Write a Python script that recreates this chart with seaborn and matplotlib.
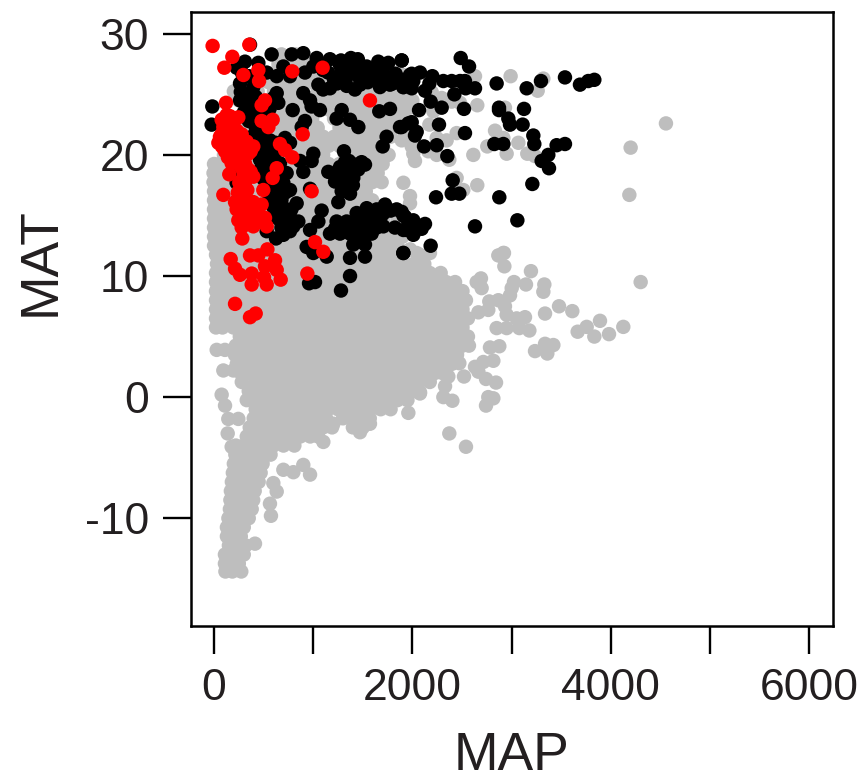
import pandas as pd
import seaborn as sns
import matplotlib.pyplot as plt

# grey points of the dense cloud, MAP values per MAT row
grey_rows = {
    11.75: [20,85,195,305,415,525,635,745,855,965,1075,1185,1295,1405,1515,1625,1735,1845,2076],
    11.0: [30,140,250,360,470,580,690,800,910,1020,1130,1240,1350,1460,1570,1680,1790,1900,2010,2120],
    10.25: [20,85,195,305,415,525,635,745,855,965,1075,1185,1295,1405,1515,1625,1735,1845,1955,2065,2175,2285],
    9.5: [20,140,250,360,470,580,690,800,910,1020,1130,1240,1350,1460,1570,1680,1790,1900,2010,2120,2230,2340,2430],
    8.75: [20,85,195,305,415,525,635,745,855,965,1075,1185,1295,1405,1515,1625,1735,1845,1955,2065,2175,2285,2395,2505],
    8.0: [20,140,250,360,470,580,690,800,910,1020,1130,1240,1350,1460,1570,1680,1790,1900,2010,2120,2230,2340,2450,2540],
    7.25: [20,85,195,305,415,525,635,745,855,965,1075,1185,1295,1405,1515,1625,1735,1845,1955,2065,2175,2285,2395,2505],
    6.5: [20,140,250,360,470,580,690,800,910,1020,1130,1240,1350,1460,1570,1680,1790,1900,2010,2120,2230,2340,2450,2560],
    5.75: [20,85,195,305,415,525,635,745,855,965,1075,1185,1295,1405,1515,1625,1735,1845,1955,2065,2175,2285,2395,2505],
    5.0: [260,360,470,580,690,800,910,1020,1130,1240,1350,1460,1570,1680,1790,1900,2010,2120,2230,2340,2450,2560],
    4.25: [220,305,415,525,635,745,855,965,1075,1185,1295,1405,1515,1625,1735,1845,1955,2065,2175,2285,2395,2505,2570],
    3.5: [210,290,360,470,580,690,800,910,1020,1130,1240,1350,1460,1570,1680,1790,1900,2010,2120,2230,2340,2450],
    2.75: [230,305,415,525,635,745,855,965,1075,1185,1295,1405,1515,1625,1735,1845,1955,2065,2175,2285,2400],
    2.0: [270,360,470,580,690,800,910,1020,1130,1240,1350,1460,1570,1680,1790,1900,2010,2120,2230,2300],
    1.25: [280,415,525,635,745,855,965,1075,1185,1295,1405,1515,1625,1735,1845,1955,2065,2175],
    0.5: [350,470,580,690,800,910,1020,1130,1240,1350,1460,1570,1680,1790,1900,2010],
    -0.25: [330,430,525,635,745,855,965,1075,1185,1295,1405,1515,1625,1735,1850,1950],
    -1.0: [420,530,640,750,860,970,1080,1150,1250,1350,1460,1570,1680,1780],
    -1.75: [400,500,610,720,830,940,1050,1130,1300,1380,1490,1570],
    -2.5: [360,470,580,690,800,910,1020,1100,1190,1400,1500],
    -3.25: [330,430,540,650,760,870,970,1050],
    -4.0: [220,300,400,500,600,700,810],
    -4.75: [215,300,400,500,570],
    -5.5: [200,280,370,490],
    -6.25: [190,270,360,470],
    -7.0: [180,270,370,450],
    -7.75: [170,250,330,410],
    -8.5: [165,240,320,395],
    -9.25: [160,230,310,380],
    -10.0: [145,220,300,350],
    -10.75: [130,210,300],
    -11.5: [130,200,270],
    -12.25: [150,230,320],
    -13.0: [110,180,250,300],
    -13.75: [110,180,250],
    -14.4: [115,185,275],
    12.5: [0,110,220,330,440,550,660,770,880,990,1100,1210,1320,1430,1540,1650,1760,1850],
    13.25: [0,55,165,275,385,495,605,715,825,935,1045,1155,1265,1375,1485,1595,1705,1815,1900],
    14.0: [0,110,220,330,440,550,660,770,880,990,1100,1210,1320,1430,1540,1650,1760],
    14.75: [0,55,165,275,385,495,605,715,825,935,1045,1155,1265,1375,1485,1595,1705,1850],
    15.5: [0,110,220,330,440,550,660,770,880,990,1100,1210,1320,1430,1540,1650],
    16.25: [0,55,165,275,385,495,605,715,825,935,1045,1155,1265,1375,1485,1595],
    17.0: [0,110,220,330,440,550,660,770,880,990,1100,1210,1320,1430,1530],
    17.75: [-5,55,165,275,385,495,605,715,825,935,1045,1155,1265,1375,1485,1595,1690],
    18.5: [-5,110,220,330,440,550,660,770,880,990,1100,1210,1320,1430,1540,1650],
    19.25: [0,55,165,275,385,495,605,715,825,935,1045,1155,1265,1375,1485,1595,1700],
    20.0: [100,220,330,440,550,660,770,880,990,1100,1320,1430,1540,1650,1760],
    20.75: [165,275,385,495,605,715,825,935,1045,1155,1265,1375,1485,1595,1705],
    21.5: [220,330,440,550,660,770,880,990,1100,1210,1320,1430,1540,1650,1780],
    22.25: [275,385,495,605,715,825,935,1045,1265,1375,1485,1595,1705,1815,1900],
    23.0: [330,440,550,660,770,880,990,1210,1320,1430,1540,1650,1760,1870],
    23.75: [385,495,605,715,825,935,1045,1155,1265,1375,1485,1595,1705,1815,1925],
    24.5: [250,400,550,660,770,880,1100,1210,1320,1430,1540,1650,1760,1870,2000],
    25.25: [200,300,440,605,715,825,1045,1155,1265,1375,1485,1595,1705,1815,1925],
    26.0: [550,660,770,880,990,1100,1210,1320,1430,1540,1650,1760,1870],
    26.75: [605,715,825,935,1045,1155,1265,1375,1485,1595,1705,1815],
    27.5: [650,770,880,990],
    28.3: [680,820],
}

# grey points outside the cloud
grey_map = [2990,3320,3263,2631,2654,2933,2833,2917,3068,2755,2950,3158,3236,2614,2446,2446,2513,2654,1976,1976,
            1909,2026,2009,1993,2245,2345,2245,2160,2372,2171,1976,1909,1925,1892,2211,2295,2396,2480,2194,1909,
            2883,2923,4187,4200,4556,1976,2043,2917,2866,2927,3195,3024,3145,3001,2984,3330,3320,4301,2691,2648,
            2698,3478,3612,3337,3891,3757,3666,3834,3982,4126,3135,3051,3078,3179,2950,2849,2950,2866,2775,2765,
            2933,2665,3337,3421,3236,3360,2876,2782,2816,2715,2631,2665,2520,2742,2843,2473,2765,2816,2742,2312,
            2403,2362,2329,2077,1959,2372,2540,27,110,94,195,77,111,144,245,138,178,1472,1572,1203,1102,968,900,
            800,699,598,632,564,574,413,2076,2177]
grey_mat = [26.5,26.3,25.3,26.5,24.1,23.9,22,21.4,21,20.7,20.1,20.1,19.9,20,21.8,18.1,17.1,17.5,16.6,16,
            17.7,19.5,20.1,20.7,21.4,21.2,20,20.3,19.6,22.5,23.9,23.2,21.8,21.2,23.6,24.7,24.4,24.3,25.2,26.6,
            11.7,11.9,16.7,20.6,22.6,12.2,11.9,11.9,11.7,10.8,10.4,9.5,9.3,9,8.4,9.3,8.7,9.5,9.8,9.5,
            9,7.5,7.1,6.9,6.3,5.8,5.4,5,5.2,5.8,6.6,6.5,5.7,5.5,5.7,5.7,6.8,8,7.9,7.2,
            7.5,7,4.4,4.3,3.8,3.6,4.2,4.1,3,2.9,2.5,2.1,1.7,1.5,1.2,2.8,0,-0.1,-0.7,0,
            -0.3,1.7,0.9,0.4,-1.3,-3,-4.1,3.9,3.9,2.2,2.2,0.2,-0.7,-1.8,-1.8,-3,-4.1,-2.9,-2.2,-2.2,-3.7,-6.4,-5.6,
            -6.2,-6,-7.1,-7.8,-8.8,-9.8,-12.1,0.3,11.9]

black_map = [2487,2571,1892,2077,1993,2201,2312,2396,2480,2530,2849,3152,3296,3538,3689,3773,3834,2631,2537,2423,
             2171,2127,1993,1909,2009,2184,2295,2520,2873,2873,3125,2067,2967,2984,3111,1993,2268,1892,2043,2026,
             2530,3219,3229,2826,2917,3454,3538,2117,2245,2352,3370,3303,3377,2406,3209,2396,2473,2238,2876,3058,
             2631,2184,1909,1892,1925,2009,2127,2093,2009,1909,2026,
             363,581,783,900,1035,1169,312,228,447,1270,1404,1539,1656,1757,1892,1270,1404,1539,1673,1808,
             1052,1169,1337,1472,1673,1908,1774,1976,262,396,262,363,632,632,648,531,699,766,917,1001,
             900,968,1068,793,917,884,984,-17,-24,1287,1236,1371,1455,1666,1774,1875,1740,1700,1959,
             1001,984,900,867,1310,1320,1488,1522,1455,1371,1270,1152,1236,1220,1404,1337,1371,1287,1253,968,
             531,464,531,665,732,699,766,632,598,732,833,665,850,766,480,430,564,716,766,228,212,
             1085,1052,968,766,699,625,531,934,1001,1136,
             1236,1337,1169,1270,1371,1438,1539,1640,1724,1505,1606,1707,1472,1589,1404,1522,1841,1908,1824,1942,
             1908,1522,1371,1371,1280,958,1018]
black_mat = [28,27.3,27.8,26.8,26.7,26.5,26.1,26.1,26.1,26.1,25.9,25.5,26.1,26.4,25.8,26.1,26.2,25.5,25.5,25,
             25.9,25.3,25.5,25.6,26.1,24.4,23.9,23.8,23.9,23.7,23.8,23.7,23,22.5,22.5,22.7,22.5,22.3,21.9,21.6,
             21.8,21.6,20.9,20.9,20.9,20.8,20.9,20.7,20.8,19.9,20,19.5,18.9,17.9,17.6,16.8,16.8,16.5,16.5,14.6,
             14.1,12.5,11.9,15.3,14.9,14.6,14.3,13.9,13.4,13.8,14.1,
             29.1,28.3,28.3,28.4,28,27.9,27.7,27.2,27.6,27.4,27.7,27.3,27.7,27.6,27.8,26.6,26.8,26.6,26.6,26.5,
             25.8,25.5,25.7,25.8,25.6,25.6,25.8,26.6,25.9,25.6,24.5,24,26.5,25.1,24.3,26.8,27.3,26.5,26.8,27.3,
             25.1,24.5,23.7,23.7,22.8,22.3,24,24,22.5,23.7,23,22.9,22.3,23.6,23.8,22.3,21.5,20.7,22.6,
             20.1,19.5,18.6,19.5,20.3,19.4,19.4,19.2,18.8,18.9,19,18.6,18.5,17.8,18.1,17.7,16.8,17,16.1,17.2,
             20.1,19.6,18.8,19.3,18.5,17.7,17.1,16.8,15.7,15.5,16,14.6,14.5,14.9,22.1,21,21.2,21.4,21,17.7,18.5,
             15.4,14.5,13.8,13.7,13.4,13.1,13.7,12.4,11.9,11.6,
             14.5,14.5,13.5,13.5,13.5,15.2,15.6,15.5,15.9,14.6,14.5,14.1,13.8,13.5,12.6,12.6,15.5,15,14,13.8,
             11.9,11.6,11.5,10,8.8,9.4,9.5]

# black points inside the solid patches
black2_map = [280,350,270,330,420,300,400,450,350,520,560,600,420,380,480,620,540,470,600,640,480,560,600,640,560,
              620,680,720,640,700,780,600,680,750,800,560,500,250,
              1100,1150,1210,1330,1470,1600,1730,1850,1330,1470,1600,1700,1240,1100,1420,1550,1800,1280,1380,1450,1830,1900,
              1360,1420,1330,1400,1290,1360,1300,1400,1350,1440,
              1480,1560,1640,1700,1540,1640,1440,1400,1300,1220,1480,1570,1780]
black2_mat = [26.8,26.5,25.2,25,24.8,23.5,23.6,23.1,22.8,23.5,23.8,24.7,22.3,21.5,21.5,21,20.5,20.6,20,20.4,19,19.5,18.5,18,17.8,
              17,16.3,16.9,15.8,15,15.5,14.9,14,14.2,14.1,16.4,18,19,
              27,26.8,26.2,26.3,26.3,26.2,26.2,26.1,27.2,27.1,27,27.1,25.9,25.4,25.4,26,25.9,27.8,28,27.9,26.7,26.2,
              19.5,19.2,18.5,18.7,18.1,18,17.5,17.5,17,18.9,
              14.9,15,14.8,15.1,14.2,14,14.2,13.8,14,13.9,13.3,14.6,15.4]

red_map = [-14,356,185,104,296,447,454,789,1095,1572,514,480,121,128,245,77,480,591,548,894,
           94,195,77,178,279,44,128,228,329,396,111,195,296,346,178,312,346,154,396,
           665,716,789,632,591,255,336,497,984,94,212,296,396,480,228,329,447,245,363,514,531,279,396,285,
           1018,1102,168,363,447,538,615,212,262,380,514,632,504,672,380,531,941,212,420,363,
           100,160,130,230,60,150,200,260,300,80,160,230,150,230,280,330,370,140,200,270,300,370,280,310,240,270,
           430,360,250,280,400,460,330,300,480]
red_mat = [29,29.1,28.1,27.2,26.6,27,26.1,26.9,27.2,24.5,24.5,24.1,24.3,23.3,23.1,22.9,22.8,22.9,22.3,21.7,
           22.3,22.6,21.7,21.8,21.7,21,21,21.1,21.1,20.7,20.3,20.3,20.3,20.1,19.3,19.3,18.8,18.4,18.2,
           20.9,20.4,19.8,18.9,18.1,17.7,17.1,17.1,17,16.7,16.1,16.3,16.1,15.9,15.5,15.3,15.2,14.6,14.5,14.8,14.1,14,14.1,13.1,
           12.8,12,11.4,11.7,11.7,12.2,11.3,10.6,10.1,10.2,10.8,10.5,9.9,9.7,9.3,9.3,10.2,7.7,6.9,6.6,
           23,23.2,22,22,21.5,21.5,21.3,21.5,20.8,20.7,20.7,20.6,20,19.9,19.8,20.6,20.3,19.8,19.6,19,18.5,18.6,17.9,17.6,16.9,16.7,
           15.7,15.8,15.8,15.2,15,14.7,14.7,14.3,14.5]

x_ticks = [0, 1000, 2000, 3000, 4000, 5000, 6000]
x_labels = ['0', '', '2000', '', '4000', '', '6000']
y_ticks = [-10, 0, 10, 20, 30]

# table in drawing order: grey first, then black, red on top
rows_map = [m for mat, maps in grey_rows.items() for m in maps]
rows_mat = [mat for mat, maps in grey_rows.items() for m in maps]
df = pd.DataFrame({
    'MAP': rows_map + grey_map + black_map + black2_map + red_map,
    'MAT': rows_mat + grey_mat + black_mat + black2_mat + red_mat,
    'group': ['grey'] * (len(rows_map) + len(grey_map)) + ['black'] * (len(black_map) + len(black2_map)) + ['red'] * len(red_map),
})

sns.set_style('ticks')
plt.rcParams['font.family'] = ['Liberation Sans', 'DejaVu Sans']
plt.rcParams['axes.unicode_minus'] = False

fig = plt.figure(figsize=(8.64, 7.84), dpi=100)
ax = fig.add_axes([191 / 864, 1 - 626 / 784, (833 - 191) / 864, (626 - 12) / 784])

sns.scatterplot(x='MAP', y='MAT', hue='group', data=df, ax=ax, s=108, linewidth=0, legend=False,
                palette={'grey': '#bebebe', 'black': 'black', 'red': '#ff0000'})

ax.set_xlim(-232, 6240)
ax.set_ylim(-18.9, 31.8)
ax.set_xticks(x_ticks)
ax.set_xticklabels(x_labels)
ax.set_yticks(y_ticks)
ax.tick_params(length=20, width=1.7, color='black', labelsize=32, labelcolor='#231f20', pad=10)
for side in ax.spines.values():
    side.set_linewidth(1.8)
    side.set_color('black')

ax.set_xlabel('MAP', fontsize=38.5, color='#231f20', labelpad=16)
ax.set_ylabel('MAT', fontsize=38.5, color='#231f20', labelpad=14, y=0.593)

plt.savefig('out.png', dpi=100)
